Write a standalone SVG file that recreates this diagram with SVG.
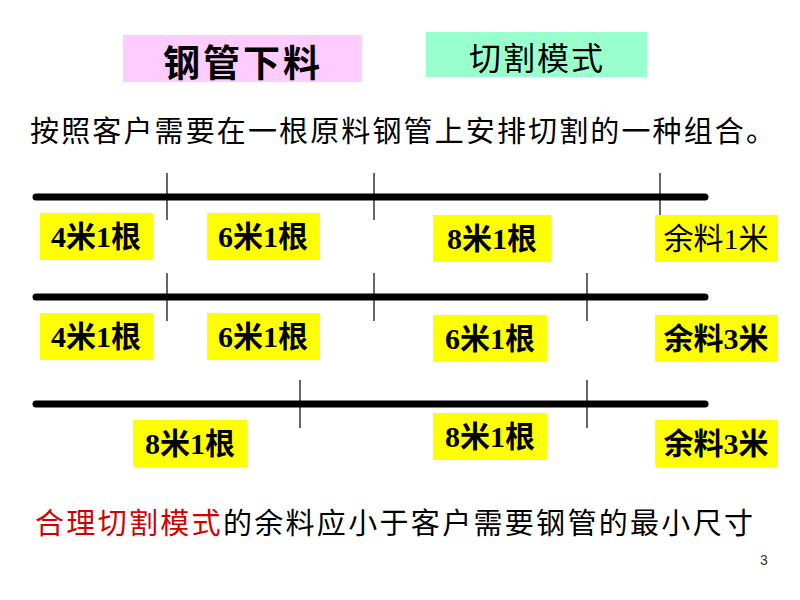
<svg xmlns="http://www.w3.org/2000/svg" width="800" height="600" viewBox="0 0 800 600">
<style>
.cjk{font-family:"Noto Sans CJK SC","Noto Sans",sans-serif;fill:#000}
.lbl{font-family:"Liberation Serif","Noto Sans CJK SC",serif;font-weight:bold;font-size:30px;fill:#000;text-anchor:middle}
.box{fill:#FFFF00}
.bar{stroke:#000;stroke-width:7;stroke-linecap:round}
.tick{stroke:#000;stroke-width:1.2}
</style>
<rect width="800" height="600" fill="#fff"/>
<g id="title1">
<rect x="123" y="35" width="239" height="47" fill="#FFCCFF"/>
<text x="243" y="77" class="cjk" font-size="37" font-weight="bold" text-anchor="middle" letter-spacing="3">钢管下料</text>
</g>
<g id="title2">
<rect x="426" y="32" width="221" height="45" fill="#99FFCC"/>
<text x="537" y="70" class="cjk" font-size="32" text-anchor="middle" letter-spacing="2">切割模式</text>
</g>
<text id="desc" x="30" y="142" class="cjk" font-size="29" textLength="745" lengthAdjust="spacing">按照客户需要在一根原料钢管上安排切割的一种组合。</text>
<g id="connectors">
<line class="bar" x1="36" y1="197" x2="705" y2="197"/>
<line class="tick" x1="167" y1="173" x2="167" y2="220"/>
<line class="tick" x1="374" y1="173" x2="374" y2="220"/>
<line class="tick" x1="660" y1="173" x2="660" y2="220"/>
<line class="bar" x1="36" y1="297" x2="705" y2="297"/>
<line class="tick" x1="167" y1="273" x2="167" y2="321"/>
<line class="tick" x1="374" y1="273" x2="374" y2="321"/>
<line class="tick" x1="587" y1="273" x2="587" y2="321"/>
<line class="bar" x1="36" y1="404" x2="705" y2="404"/>
<line class="tick" x1="300" y1="380" x2="300" y2="428"/>
<line class="tick" x1="587" y1="380" x2="587" y2="428"/>
</g>
<g id="r1a"><rect class="box" x="40" y="213" width="113" height="47"/><text class="lbl" x="96" y="247">4米1根</text></g>
<g id="r1b"><rect class="box" x="207" y="213" width="113" height="47"/><text class="lbl" x="263" y="247">6米1根</text></g>
<g id="r1c"><rect class="box" x="433" y="215" width="118" height="47"/><text class="lbl" x="492" y="249">8米1根</text></g>
<g id="r1d"><rect class="box" x="655" y="215" width="123" height="47"/><text class="lbl" x="716" y="249" style="font-weight:normal">余料1米</text></g>
<g id="r2a"><rect class="box" x="40" y="313" width="113" height="47"/><text class="lbl" x="96" y="347">4米1根</text></g>
<g id="r2b"><rect class="box" x="207" y="313" width="113" height="47"/><text class="lbl" x="263" y="347">6米1根</text></g>
<g id="r2c"><rect class="box" x="433" y="315" width="114" height="47"/><text class="lbl" x="490" y="349">6米1根</text></g>
<g id="r2d"><rect class="box" x="655" y="315" width="123" height="47"/><text class="lbl" x="716" y="349">余料3米</text></g>
<g id="r3a"><rect class="box" x="133" y="420" width="114" height="47"/><text class="lbl" x="190" y="454">8米1根</text></g>
<g id="r3b"><rect class="box" x="433" y="413" width="114" height="47"/><text class="lbl" x="490" y="447">8米1根</text></g>
<g id="r3c"><rect class="box" x="655" y="420" width="123" height="47"/><text class="lbl" x="716" y="454">余料3米</text></g>
<text id="note" x="35" y="534" class="cjk" font-size="29" textLength="718" lengthAdjust="spacing"><tspan fill="#D40000">合理切割模式</tspan>的余料应小于客户需要钢管的最小尺寸</text>
<text id="page" x="760" y="565" font-family="Liberation Sans,sans-serif" font-size="14" fill="#333">3</text>
</svg>
